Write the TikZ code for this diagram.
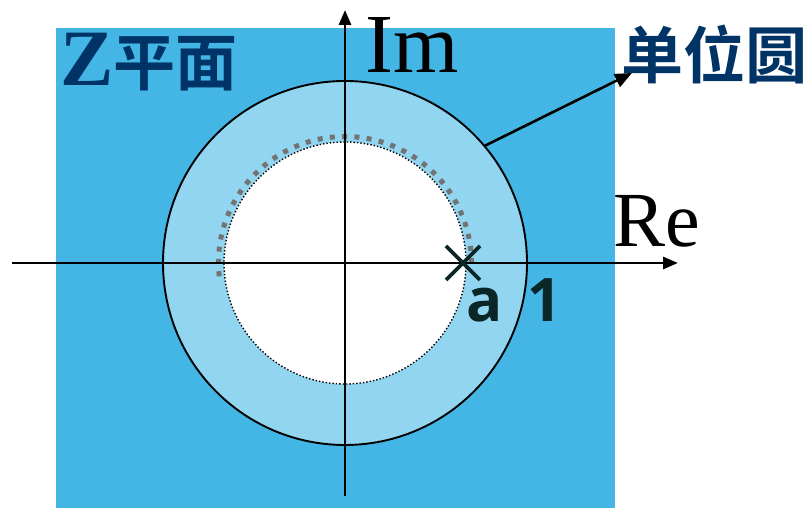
\documentclass[tikz,border=0pt]{standalone}
\usepackage{fontspec}
\setmainfont{Liberation Serif}
\newfontfamily\cjkbold{Noto Sans CJK SC Bold}
\newfontfamily\zserif{Liberation Serif}
\newfontfamily\labelsans{Open Sans}
\usetikzlibrary{arrows.meta}

\definecolor{planeblue}{RGB}{68,182,230}
\definecolor{ringblue}{RGB}{145,213,240}
\definecolor{titlenavy}{RGB}{0,52,102}
\definecolor{markdark}{RGB}{10,38,38}

\begin{document}
\begin{tikzpicture}[
    x=1pt, y=1pt,
    axis/.style={
        line width=2.9pt,
        -{Triangle[length=15pt,width=12pt]}
    },
    pointer/.style={
        line width=2.6pt,
        -{Triangle[length=17pt,width=14pt]}
    },
    axislabel/.style={
        inner sep=0pt,
        anchor=base west,
        font=\fontsize{84}{84}\selectfont
    },
    title/.style={
        inner sep=0pt,
        text=titlenavy,
        font=\fontsize{62}{62}\selectfont\cjkbold
    },
    marklabel/.style={
        inner sep=0pt,
        anchor=base,
        text=markdark,
        font=\fontsize{60}{60}\selectfont\labelsans\bfseries
    }
]
\useasboundingbox (0,0) rectangle (809,508);

% z-plane background
\fill[planeblue] (56,0) rectangle (615,480);

\coordinate (O) at (345,245);

% convergence region and unit circle
\fill[ringblue, draw=black, line width=1.9pt] (O) circle (182);
\fill[white] (O) circle (121);
\draw[black, dotted, line width=1.4pt] (O) circle (121);
\draw[gray!90!black, line width=5pt, dash pattern=on 5pt off 7.3pt]
    (O) ++(186:126.5) arc (186:-3:126.5);

% axes
\coordinate (xstart) at (12,245);
\coordinate (xend) at (678,245);
\coordinate (ystart) at (345,12);
\coordinate (yend) at (345,498);
\draw[axis] (xstart) -- (xend);
\draw[axis] (ystart) -- (yend);

\node[axislabel] (im) at (365,435) {Im};
\node[axislabel, font=\fontsize{78}{78}\selectfont] (re) at (613,261) {Re};

% labels
\node[title, anchor=west] (zplane) at (60,446)
    {{\zserif\bfseries\fontsize{80}{80}\selectfont Z}平面};
\node[title] (unit) at (714,454) {单位圆};

\path (O) ++(40:182) coordinate (rim);
\coordinate (unittip) at (632,435);
\draw[pointer] (rim) -- (unittip);

% pole a and point 1
\coordinate (pole) at (463,245);
\draw[markdark, line width=3.8pt] (pole) ++(-17,17) -- ++(34,-34);
\draw[markdark, line width=3.8pt] (pole) ++(-17,-17) -- ++(34,34);
\node[marklabel] (a) at (485,186) {a};
\node[marklabel] (one) at (545,186) {1};

\end{tikzpicture}
\end{document}
